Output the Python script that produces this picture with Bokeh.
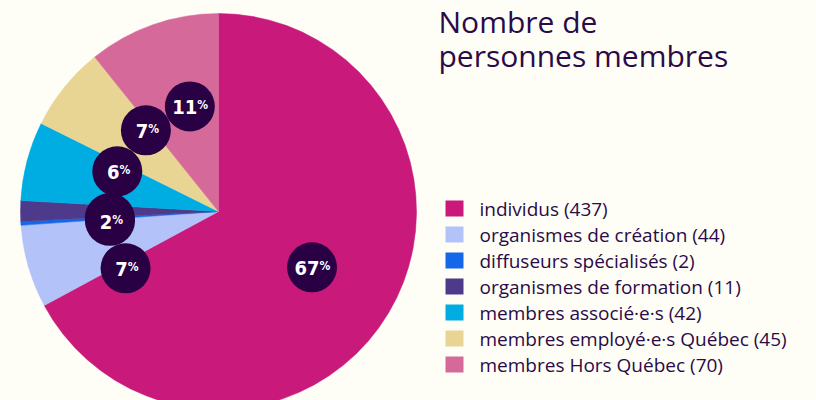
import numpy as np
from bokeh.plotting import figure
from bokeh.models import Range1d, ColumnDataSource
from bokeh.core.properties import value
from bokeh.embed import file_html
from bokeh.resources import INLINE

# ---- data ----
categories = ["individus", "organismes de création", "diffuseurs spécialisés",
              "organismes de formation", "membres associé·e·s",
              "membres employé·e·s Québec", "membres Hors Québec"]
counts = [437, 44, 2, 11, 42, 45, 70]
colors = ["#c9197b", "#b3c2f8", "#1466ea", "#4d3a8a", "#00ade2", "#e8d594", "#d4699a"]
title_lines = ["Nombre de", "personnes membres"]

# ---- style ----
bg = "#fefef6"
ink = "#2b0a47"
bubble = "#2a0045"
W, H = 816, 400

p = figure(width=W, height=H, x_range=Range1d(0, W), y_range=Range1d(0, H),
           output_backend="svg", toolbar_location=None,
           x_axis_type=None, y_axis_type=None, min_border=0)
p.outline_line_color = None
p.grid.visible = False
p.background_fill_color = bg
p.border_fill_color = bg

cx, cy, R = 218, H - 211, 198
total = sum(counts)
frac = np.array(counts) / total
cum = np.concatenate([[0], np.cumsum(frac)])
start = np.pi / 2 - cum[:-1] * 2 * np.pi
end = np.pi / 2 - cum[1:] * 2 * np.pi

src = ColumnDataSource(dict(start=start, end=end, color=colors,
                            x=[cx] * len(counts), y=[cy] * len(counts)))
p.wedge(x="x", y="y", radius=R, start_angle="start", end_angle="end",
        direction="clock", fill_color="color", line_color="color",
        line_width=0.5, source=src)

# percentage bubbles: start at mid-angle, then spread overlapping ones apart
mid_cw = np.degrees((cum[:-1] + cum[1:]) / 2 * 2 * np.pi)  # clockwise from top
lr = 0.55 * R
bsize = 50
pcts = [round(f * 100) for f in frac]
ang = mid_cw.copy()
movable = [i for i, v in enumerate(pcts) if v >= 1]
min_gap = np.degrees(2 * np.arcsin((bsize / 2) / lr))
for _ in range(300):
    for a, b in zip(movable[:-1], movable[1:]):
        gap = ang[b] - ang[a]
        if gap < min_gap:
            d = (min_gap - gap) / 2
            ang[a] -= d
            ang[b] += d

lab_font = value("DejaVu Sans Condensed")
for i in range(len(counts)):
    t = np.radians(90 - ang[i])
    lx = cx + lr * np.cos(t)
    ly = cy + lr * np.sin(t)
    num = f"{pcts[i]}"
    p.scatter([lx], [ly], size=bsize, fill_color=bubble, line_color=None)
    nw = 10.5 * len(num)
    tw = nw + 8
    right = -tw / 2 + nw
    p.text([lx], [ly], text=[num], x_offset=right + 1, y_offset=1,
           text_align="right", text_baseline="middle",
           text_font=lab_font, text_font_style="bold",
           text_font_size="20px", text_color="white")
    p.text([lx], [ly], text=["%"], x_offset=right + 1, y_offset=-8,
           text_align="left", text_baseline="top",
           text_font=lab_font, text_font_style="bold",
           text_font_size="12px", text_color="white")

# title
for k, line in enumerate(title_lines):
    p.text([438], [H - 21 - 34 * k], text=[line], text_align="left",
           text_baseline="alphabetic", text_font=value("Open Sans"),
           text_font_size="30px", text_color=ink)

# legend
for i, (cat, n) in enumerate(zip(categories, counts)):
    ry = H - 208 - 26 * i
    p.rect([454], [ry], width=18, height=16, fill_color=colors[i], line_color=None)
    p.text([479], [ry], text=[f"{cat} ({n})"], text_align="left",
           text_baseline="middle", text_font=value("Open Sans"),
           text_font_size="19px", text_color=ink)

html = file_html(p, INLINE)
html = html.replace("<body>", f'<body style="background-color:{bg};">', 1)
open("out.html", "w").write(html)
